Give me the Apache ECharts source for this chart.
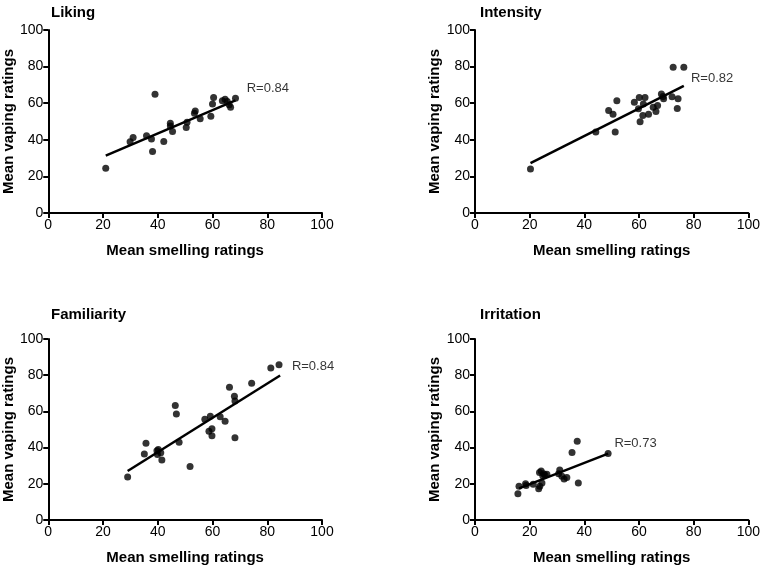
<!DOCTYPE html>
<html>
<head>
<meta charset="utf-8">
<script src="https://cdn.jsdelivr.net/npm/echarts@6/dist/echarts.min.js"></script>
<style>
  html, body { margin: 0; padding: 0; background: #fff; }
  #chart { width: 763px; height: 566px; }
</style>
</head>
<body>
<div id="chart"></div>
<script>
// panel titles and axis labels
var panelTitles = ["Liking", "Intensity", "Familiarity", "Irritation"];
var xName = "Mean smelling ratings";
var yName = "Mean vaping ratings";
var tickInterval = 20;

// [smelling, vaping] per sample
var likingPoints = [
  [21, 24.5], [29.9, 39], [31, 41.3], [35.9, 42.2], [37.7, 40.4], [38.1, 33.6],
  [39, 64.9], [42.2, 39.1], [44.6, 49.1], [44.6, 47.6], [45.4, 44.5], [50.4, 46.7],
  [50.7, 49.6], [53.4, 54.5], [53.7, 55.8], [55.5, 51.5], [59.4, 52.9], [60, 59.5],
  [60.4, 63.1], [63.6, 61.3], [64.6, 62.2], [65.4, 60.9], [66.1, 59.1], [66.6, 57.8],
  [68.4, 62.7]
];
var intensityPoints = [
  [20.3, 24], [44.2, 44.2], [48.9, 56], [51.3, 44.2], [51.9, 61.3], [50.5, 54],
  [58.3, 60.5], [60.1, 63.1], [59.8, 56.9], [60.4, 49.8], [61.6, 59.5], [61.4, 53.3],
  [62.2, 63.1], [63.5, 54], [65.2, 57.8], [66.2, 55.5], [66.8, 58.7], [68.2, 65],
  [69, 62.4], [68.8, 63.6], [72.1, 63.5], [72.5, 79.6], [74.3, 62.4], [74, 57.1],
  [76.4, 79.6]
];
var familiarityPoints = [
  [29, 23.8], [35.1, 36.4], [35.7, 42.4], [39.7, 38.2], [39.9, 36.2], [40.2, 38.9],
  [41.1, 37.1], [41.5, 33.1], [46.4, 63.3], [46.8, 58.5], [47.8, 42.9], [51.8, 29.6],
  [57.2, 55.6], [59.2, 57.3], [58.7, 49.1], [59.8, 50.4], [59.8, 46.5], [62.8, 57.1],
  [64.6, 54.5], [66.2, 73.3], [68, 68.4], [68.2, 65.8], [68.2, 45.5], [74.3, 75.5],
  [81.3, 84], [84.3, 85.8]
];
var irritationPoints = [
  [15.7, 14.5], [16.1, 18.7], [18.5, 20], [18.7, 19.1], [21.3, 19.8], [23.3, 17.3],
  [23.7, 18.7], [23.6, 26.2], [24.2, 27.1], [24.5, 20.4], [24.8, 24.4], [25.1, 25.6],
  [25.6, 24.9], [26.3, 25.3], [30.6, 25.5], [31, 27.6], [31.8, 24.2], [32.6, 22.7],
  [33.6, 23.5], [35.5, 37.3], [37.4, 43.5], [37.8, 20.4], [48.7, 36.7]
];

// fitted regression line end points
var likingFit = [[21, 31.3], [68.4, 61.5]];
var intensityFit = [[20.3, 27.3], [76.4, 69.5]];
var familiarityFit = [[29, 27.1], [84.7, 79.8]];
var irritationFit = [[16.1, 17.5], [48.7, 36.7]];

// correlation labels and where they sit
var rLabels = ["R=0.84", "R=0.82", "R=0.84", "R=0.73"];
var rLabelPos = [[72.5, 68.2], [79, 73.3], [89, 84.9], [51, 42.2]];

var allPoints = [likingPoints, intensityPoints, familiarityPoints, irritationPoints];
var allFits = [likingFit, intensityFit, familiarityFit, irritationFit];

var font = "'Liberation Sans', Arial, sans-serif";
var grids = [
  { left: 46, top: 30, width: 276, height: 183 },
  { left: 475, top: 30, width: 276, height: 183 },
  { left: 46, top: 339, width: 276, height: 183 },
  { left: 475, top: 339, width: 276, height: 183 }
];
var titlePos = [[46, 0], [475, 0], [46, 302], [475, 302]];

var axisCommon = {
  type: "value",
  min: 0,
  max: 100,
  interval: tickInterval,
  splitLine: { show: false },
  axisLine: { show: true, onZero: false, lineStyle: { color: "#000", width: 2 } },
  axisTick: { show: true, inside: false, length: 5, lineStyle: { color: "#000", width: 2 } },
  axisLabel: { color: "#000", fontSize: 14, fontFamily: font, margin: 5 },
  nameLocation: "middle",
  nameTextStyle: { color: "#000", fontSize: 15, fontWeight: "bold", fontFamily: font }
};

var xAxes = [], yAxes = [], series = [], titles = [];
for (var i = 0; i < 4; i++) {
  xAxes.push(Object.assign({}, axisCommon, { gridIndex: i, name: xName, nameGap: 30 }));
  yAxes.push(Object.assign({}, axisCommon, { gridIndex: i, name: yName, nameGap: 29 }));
  titles.push({
    text: panelTitles[i],
    left: titlePos[i][0],
    top: titlePos[i][1],
    textStyle: { color: "#000", fontSize: 15, fontWeight: "bold", fontFamily: font }
  });
  series.push({
    type: "scatter",
    xAxisIndex: i,
    yAxisIndex: i,
    symbolSize: 7,
    itemStyle: { color: "#000" },
    data: allPoints[i],
    z: 3
  });
  series.push({
    type: "line",
    xAxisIndex: i,
    yAxisIndex: i,
    showSymbol: false,
    lineStyle: { color: "#000", width: 2.5 },
    data: allFits[i],
    z: 2
  });
  series.push({
    type: "scatter",
    xAxisIndex: i,
    yAxisIndex: i,
    symbolSize: 0,
    silent: true,
    data: [rLabelPos[i]],
    label: {
      show: true,
      position: "right",
      distance: 0,
      formatter: rLabels[i],
      color: "#000",
      fontSize: 13,
      fontFamily: font
    }
  });
}

var chart = echarts.init(document.getElementById("chart"), null, { renderer: "canvas" });
chart.setOption({
  backgroundColor: "#fff",
  animation: false,
  title: titles,
  grid: grids,
  xAxis: xAxes,
  yAxis: yAxes,
  series: series
});
</script>
</body>
</html>
